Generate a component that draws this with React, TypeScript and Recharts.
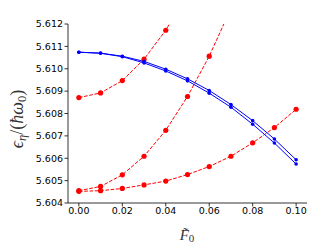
import React from "react";
import { LineChart, Line, XAxis, YAxis } from "recharts";

// field strength F0 (x axis)
const F0 = [0, 0.01, 0.02, 0.03, 0.04, 0.05, 0.06, 0.07, 0.08, 0.09, 0.1];

// blue levels (solid)
const blueUpper = [5.61074, 5.6107, 5.61056, 5.61033, 5.60998, 5.60955, 5.60903, 5.6084, 5.60768, 5.60686, 5.60593];
const blueLower = [5.61074, 5.61069, 5.61054, 5.61026, 5.6099, 5.60946, 5.60891, 5.60828, 5.60752, 5.60668, 5.60574];

// red levels (dashed); later points run off the top of the frame
const redTop = [5.60871, 5.60892, 5.60947, 5.61043, 5.61172, 5.6134];
const redSteep = [5.60455, 5.60474, 5.60526, 5.60609, 5.60725, 5.60876, 5.61056, 5.6127];
const redSlow = [5.60452, 5.60455, 5.60465, 5.60481, 5.60498, 5.60527, 5.60563, 5.60609, 5.60669, 5.60737, 5.60819];

const xTicks = [0, 0.02, 0.04, 0.06, 0.08, 0.1];
const yTicks = [5.604, 5.605, 5.606, 5.607, 5.608, 5.609, 5.61, 5.611, 5.612];

const rows = F0.map((f, i) => ({
  f,
  b1: blueUpper[i],
  b2: blueLower[i],
  r1: redTop[i],
  r2: redSteep[i],
  r3: redSlow[i],
}));

const tickStyle = { fontFamily: "DejaVu Sans", fontSize: 9.5, fill: "#000" };
const BLUE = "#0000ff";
const RED = "#ff0000";

export default function App() {
  return (
    <div style={{ position: "absolute", left: 0, top: 0, width: 334, height: 248, background: "#fff" }}>
      <LineChart width={334} height={248} data={rows} margin={{ top: 24, right: 27, left: 0, bottom: 0 }}>
        <XAxis
          dataKey="f"
          type="number"
          domain={[-0.005, 0.105]}
          ticks={xTicks}
          tickFormatter={(v: number) => v.toFixed(2)}
          tick={tickStyle}
          tickSize={3.5}
          tickMargin={1}
          height={45}
          stroke="#000"
          strokeWidth={0.8}
          allowDataOverflow
        />
        <XAxis xAxisId="top" orientation="top" dataKey="f" type="number" domain={[-0.005, 0.105]} tick={false} tickLine={false} height={0} stroke="#000" strokeWidth={0.8} />
        <YAxis
          type="number"
          domain={[5.604, 5.612]}
          ticks={yTicks}
          tickFormatter={(v: number) => v.toFixed(3)}
          tick={tickStyle}
          tickSize={3.5}
          tickMargin={1.5}
          width={68}
          stroke="#000"
          strokeWidth={0.8}
          allowDataOverflow
        />
        <YAxis yAxisId="right" orientation="right" domain={[5.604, 5.612]} tick={false} tickLine={false} width={0} stroke="#000" strokeWidth={0.8} />
        <Line dataKey="r1" stroke={RED} strokeWidth={1} strokeDasharray="3.7 1.6" dot={{ r: 2.6, fill: RED, stroke: RED, strokeWidth: 0 }} isAnimationActive={false} />
        <Line dataKey="r2" stroke={RED} strokeWidth={1} strokeDasharray="3.7 1.6" dot={{ r: 2.6, fill: RED, stroke: RED, strokeWidth: 0 }} isAnimationActive={false} />
        <Line dataKey="r3" stroke={RED} strokeWidth={1} strokeDasharray="3.7 1.6" dot={{ r: 2.6, fill: RED, stroke: RED, strokeWidth: 0 }} isAnimationActive={false} />
        <Line dataKey="b1" stroke={BLUE} strokeWidth={1} dot={{ r: 1.8, fill: BLUE, stroke: BLUE, strokeWidth: 0 }} isAnimationActive={false} />
        <Line dataKey="b2" stroke={BLUE} strokeWidth={1} dot={{ r: 1.8, fill: BLUE, stroke: BLUE, strokeWidth: 0 }} isAnimationActive={false} />
      </LineChart>
      <svg width={334} height={248} style={{ position: "absolute", left: 0, top: 0, pointerEvents: "none" }}>
        <text
          transform="translate(23,119) rotate(-90)"
          textAnchor="middle"
          fontFamily="Liberation Serif"
          fontStyle="italic"
          fontSize={18}
          fill="#333"
        >
          ϵ<tspan fontSize={12.5} dy={3}>η</tspan>
          <tspan dy={-3} fontStyle="normal">/(</tspan>ħω
          <tspan fontSize={12.5} dy={3} fontStyle="normal">0</tspan>
          <tspan dy={-3} fontStyle="normal">)</tspan>
        </text>
        <text x={187} y={240} textAnchor="middle" fontFamily="Liberation Serif" fontStyle="italic" fontSize={15} fill="#333">
          F̃<tspan fontSize={11} dy={2} fontStyle="normal">0</tspan>
        </text>
      </svg>
    </div>
  );
}
